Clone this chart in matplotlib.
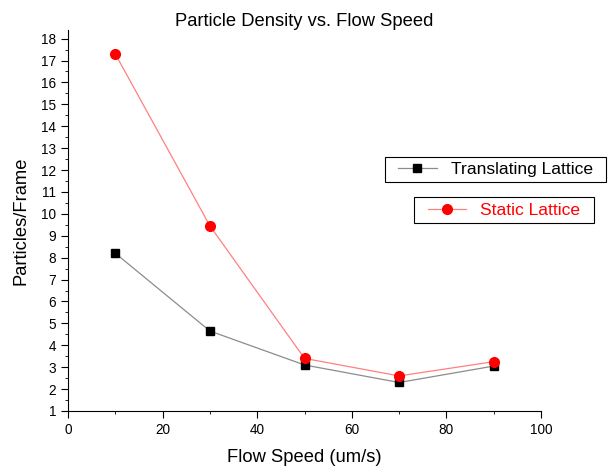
import numpy as np
import matplotlib.pyplot as plt
from matplotlib.ticker import MultipleLocator
from matplotlib.path import Path

plt.rcParams['font.family'] = ['Liberation Sans', 'DejaVu Sans']

# flow speed (um/s)
speed = [10, 30, 50, 70, 90]
# particles per frame
translating = [8.2, 4.65, 3.1, 2.3, 3.05]
static = [17.3, 9.45, 3.4, 2.6, 3.25]


def wide_box(x0, y0, width, height, mutation_size):
    # square frame with extra room left and right
    px = 0.48 * mutation_size
    x0 -= px
    width += 2 * px
    return Path.unit_rectangle().transformed(
        plt.matplotlib.transforms.Affine2D().scale(width, height).translate(x0, y0))


fig = plt.figure(figsize=(6.09, 4.67), dpi=100)
ax = fig.add_axes([0.1117, 0.12, 0.7767, 0.816])

l1, = ax.plot(speed, translating, color='#8c8c8c', lw=0.9, marker='s', ms=6,
              mfc='black', mec='black', label='Translating Lattice')
l2, = ax.plot(speed, static, color='#ff8080', lw=0.9, marker='o', ms=7,
              mfc='red', mec='red', label='Static Lattice')

ax.set_xlim(0, 100)
ax.set_ylim(1, 18.4)
ax.xaxis.set_major_locator(MultipleLocator(20))
ax.xaxis.set_minor_locator(MultipleLocator(10))
ax.yaxis.set_minor_locator(MultipleLocator(0.5))
ax.set_yticks(np.arange(1, 19))

for s in ['top', 'right']:
    ax.spines[s].set_visible(False)
ax.tick_params(which='both', direction='out', labelsize=9.8)
ax.tick_params(which='major', length=5)
ax.tick_params(which='minor', length=2.5)

ax.set_title('Particle Density vs. Flow Speed', fontsize=13.2, pad=3)
ax.set_xlabel('Flow Speed (um/s)', fontsize=13.2, labelpad=9)
ax.set_ylabel('Particles/Frame', fontsize=13.2, labelpad=8)

leg1 = ax.legend(handles=[l1], loc='center', bbox_to_anchor=(0.8136, 0.637),
                 bbox_transform=fig.transFigure, fancybox=False, edgecolor='black',
                 framealpha=1, fontsize=12.6, borderpad=0.3, handlelength=2.2,
                 borderaxespad=0)
leg1.get_frame().set_linewidth(0.8)
leg1.get_frame().set_boxstyle(wide_box)
ax.add_artist(leg1)
leg2 = ax.legend(handles=[l2], loc='center', bbox_to_anchor=(0.8276, 0.5503),
                 bbox_transform=fig.transFigure, fancybox=False, edgecolor='black',
                 framealpha=1, fontsize=12.6, borderpad=0.3, handlelength=2.2,
                 borderaxespad=0, labelcolor='red')
leg2.get_frame().set_linewidth(0.8)
leg2.get_frame().set_boxstyle(wide_box)

fig.savefig('out.png', dpi=100)
